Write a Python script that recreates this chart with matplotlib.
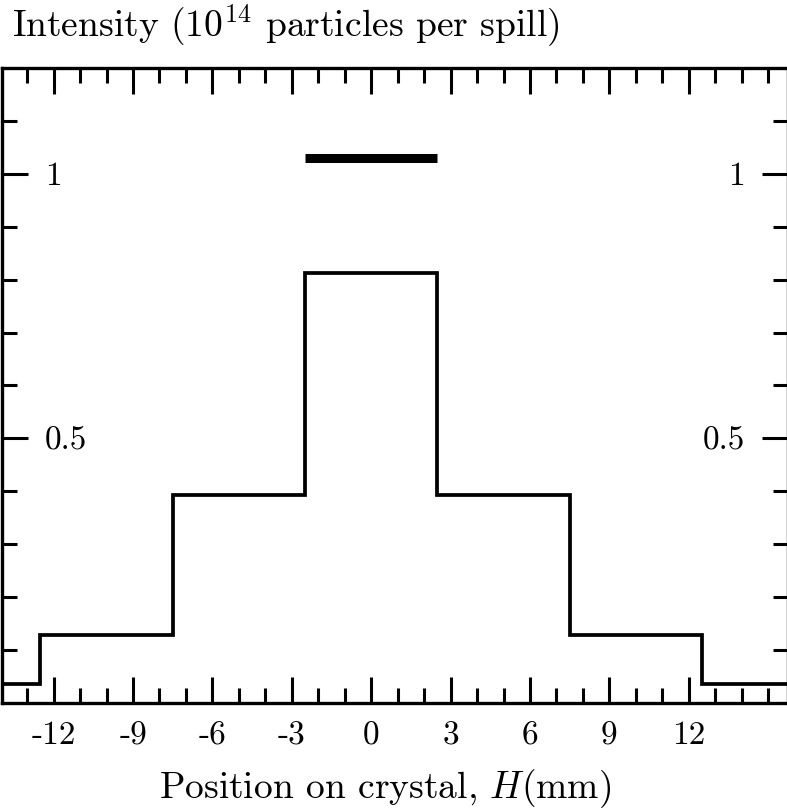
"""
Beam intensity profile across the crystal (step histogram)
"""

import matplotlib
matplotlib.use('Agg')
import matplotlib.pyplot as plt
from matplotlib.ticker import FixedLocator

plt.rcParams['font.family'] = 'cmr10'
plt.rcParams['mathtext.fontset'] = 'cm'
plt.rcParams['axes.unicode_minus'] = False

# data
bin_edges = [-14, -12.5, -7.5, -2.5, 2.5, 7.5, 12.5, 16]   # mm
intensity = [0.035, 0.128, 0.394, 0.813, 0.394, 0.128, 0.035]  # 1e14 per spill
bar_x = [-2.5, 2.5]
bar_y = [1.03, 1.03]

x_major = [-12, -9, -6, -3, 0, 3, 6, 9, 12]
x_labels = ['-12', '-9', '-6', '-3', '0', '3', '6', '9', '12']
x_minor = list(range(-13, 16))
y_major = [0.5, 1.0]
y_labels = ['0.5', '1']
y_minor = [0.1, 0.2, 0.3, 0.4, 0.6, 0.7, 0.8, 0.9, 1.1]

fig = plt.figure(figsize=(7.87, 8.10), dpi=100)
ax = fig.add_axes([2 / 787, 1 - 703 / 810, 786 / 787, 635 / 810])

step = ax.stairs(intensity, bin_edges, baseline=None, color='k', linewidth=2.7)
step.set_joinstyle('miter')
ax.plot(bar_x, bar_y, color='k', linewidth=6.5, solid_capstyle='butt')

ax.set_xlim(-13.95, 15.75)
ax.set_ylim(0, 1.2)

ax.xaxis.set_major_locator(FixedLocator(x_major))
ax.xaxis.set_minor_locator(FixedLocator(x_minor))
ax.set_xticklabels(x_labels)
ax.yaxis.set_major_locator(FixedLocator(y_major))
ax.yaxis.set_minor_locator(FixedLocator(y_minor))
ax.set_yticklabels(y_labels)

for s in ax.spines.values():
    s.set_linewidth(2.4)

ax.tick_params(which='both', direction='in', width=2.2, top=True, right=True)
ax.tick_params(which='major', length=19)
ax.tick_params(which='minor', length=11)
ax.tick_params(axis='x', which='major', labelsize=24, pad=13)
ax.tick_params(axis='y', which='major', labelsize=24, pad=-31,
               labelleft=True, labelright=True)

# y labels sit inside the frame
for t in ax.yaxis.get_major_ticks():
    t.label1.set_horizontalalignment('left')
    t.label2.set_horizontalalignment('right')

ax.set_xlabel(r'Position on crystal, $H$(mm)', fontsize=27, va='baseline')
ax.xaxis.set_label_coords((385.5 - 2) / 786, (703 - 798) / 635)

fig.text(12 / 787, 1 - 37 / 810, r'Intensity ($10^{14}$ particles per spill)',
         fontsize=27, ha='left', va='baseline')

plt.savefig('out.png', dpi=100)
